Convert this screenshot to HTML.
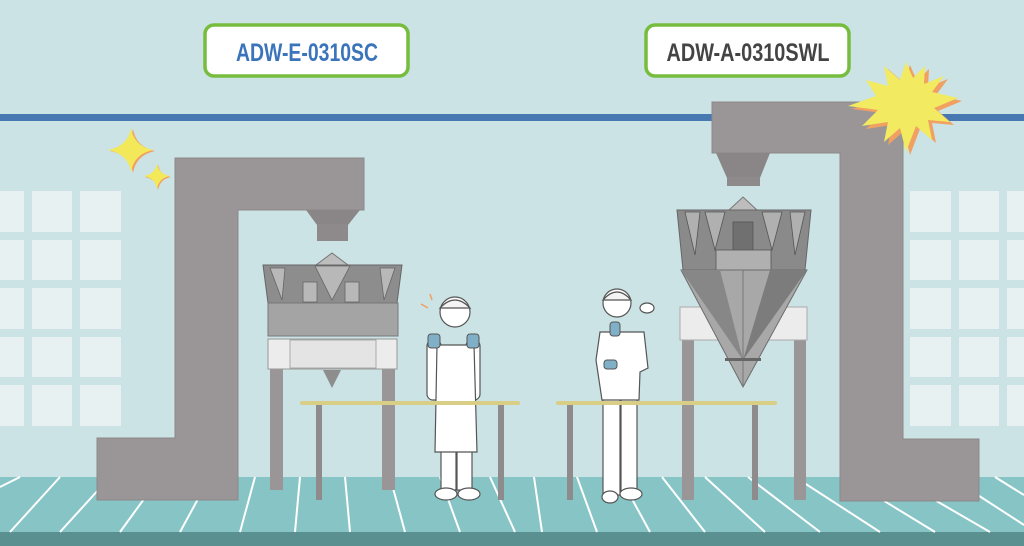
<!DOCTYPE html>
<html><head><meta charset="utf-8"><style>
html,body{margin:0;padding:0;background:#cbe3e4;}
svg{display:block}
text{font-family:"Liberation Sans",sans-serif;font-weight:bold}
</style></head><body>
<svg width="1024" height="546" viewBox="0 0 1024 546" xmlns="http://www.w3.org/2000/svg">
<rect width="1024" height="546" fill="#cbe3e4"/>
<rect x="0" y="114" width="1024" height="7" fill="#4878b2"/>
<g fill="#e7f1f2">
<rect x="0" y="191" width="24" height="41"/><rect x="32" y="191" width="40" height="41"/><rect x="80" y="191" width="41" height="41"/>
<rect x="0" y="240" width="24" height="40"/><rect x="32" y="240" width="40" height="40"/><rect x="80" y="240" width="41" height="40"/>
<rect x="0" y="288" width="24" height="41"/><rect x="32" y="288" width="40" height="41"/><rect x="80" y="288" width="41" height="41"/>
<rect x="0" y="337" width="24" height="40"/><rect x="32" y="337" width="40" height="40"/><rect x="80" y="337" width="41" height="40"/>
<rect x="0" y="385" width="24" height="41"/><rect x="32" y="385" width="40" height="41"/><rect x="80" y="385" width="41" height="41"/>
<rect x="910" y="191" width="41" height="41"/><rect x="959" y="191" width="40" height="41"/><rect x="1007" y="191" width="17" height="41"/>
<rect x="910" y="240" width="41" height="40"/><rect x="959" y="240" width="40" height="40"/><rect x="1007" y="240" width="17" height="40"/>
<rect x="910" y="288" width="41" height="41"/><rect x="959" y="288" width="40" height="41"/><rect x="1007" y="288" width="17" height="41"/>
<rect x="910" y="337" width="41" height="40"/><rect x="959" y="337" width="40" height="40"/><rect x="1007" y="337" width="17" height="40"/>
<rect x="910" y="385" width="41" height="41"/><rect x="959" y="385" width="40" height="41"/><rect x="1007" y="385" width="17" height="41"/>
</g>
<rect x="0" y="477" width="1024" height="56" fill="#86c4c6"/>
<rect x="0" y="532" width="1024" height="14" fill="#5a9190"/>
<g stroke="#fff" stroke-width="2" fill="none">
<line x1="20" y1="477" x2="0" y2="487"/><line x1="60" y1="477" x2="10" y2="532"/><line x1="110" y1="477" x2="60" y2="532"/>
<line x1="160" y1="477" x2="120" y2="532"/><line x1="210" y1="477" x2="180" y2="532"/><line x1="255" y1="477" x2="240" y2="532"/>
<line x1="300" y1="477" x2="295" y2="532"/><line x1="345" y1="477" x2="350" y2="532"/><line x1="390" y1="477" x2="405" y2="532"/>
<line x1="440" y1="477" x2="460" y2="532"/><line x1="490" y1="477" x2="515" y2="532"/><line x1="534" y1="477" x2="542" y2="532"/>
<line x1="577" y1="477" x2="597" y2="532"/><line x1="620" y1="477" x2="650" y2="532"/><line x1="662" y1="477" x2="705" y2="532"/>
<line x1="705" y1="477" x2="765" y2="532"/><line x1="748" y1="477" x2="820" y2="532"/><line x1="795" y1="477" x2="880" y2="532"/>
<line x1="845" y1="477" x2="935" y2="532"/><line x1="895" y1="477" x2="990" y2="532"/><line x1="950" y1="477" x2="1024" y2="525"/>
<line x1="995" y1="477" x2="1024" y2="495"/>
</g>
<path d="M175 158 H364 V210 H238 V500 H97 V438 H175 Z" fill="#9a9697" stroke="#8c8889"/>
<path d="M712 102 H903 V439 H979 V501 H840 V153 H712 Z" fill="#9a9697" stroke="#8c8889"/>
<rect x="205" y="25" width="203" height="51" rx="9" fill="#fff" stroke="#76bd3e" stroke-width="3.5"/>
<text x="307" y="61" text-anchor="middle" font-size="25" fill="#3a74bb" textLength="142" lengthAdjust="spacingAndGlyphs">ADW-E-0310SC</text>
<rect x="646" y="25" width="203" height="51" rx="9" fill="#fff" stroke="#76bd3e" stroke-width="3.5"/>
<text x="748" y="61" text-anchor="middle" font-size="25" fill="#444" textLength="163" lengthAdjust="spacingAndGlyphs">ADW-A-0310SWL</text>
<path d="M131 128 Q134 146 153 150 Q134 154 131 172 Q128 154 108 150 Q128 146 131 128Z" fill="#f0a060" transform="translate(2,1)"/>
<path d="M131 128 Q134 146 153 150 Q134 154 131 172 Q128 154 108 150 Q128 146 131 128Z" fill="#f2e85a"/>
<path d="M157 164 Q159 174 170 176 Q159 178 157 189 Q155 178 144 176 Q155 174 157 164Z" fill="#f0a060" transform="translate(1,1)"/>
<path d="M157 164 Q159 174 170 176 Q159 178 157 189 Q155 178 144 176 Q155 174 157 164Z" fill="#f2e85a"/>
<g transform="translate(906,104)">
<polygon transform="translate(4,3)" fill="#f0a060" points="0,-42 7,-26 19,-38 18,-20 38,-28 26,-12 52,-6 28,4 44,18 22,16 26,36 10,22 0,48 -6,24 -22,38 -18,18 -44,22 -28,6 -58,2 -30,-8 -40,-24 -18,-18 -22,-38 -6,-24"/>
<polygon fill="#f2ea60" points="0,-42 7,-26 19,-38 18,-20 38,-28 26,-12 52,-6 28,4 44,18 22,16 26,36 10,22 0,48 -6,24 -22,38 -18,18 -44,22 -28,6 -58,2 -30,-8 -40,-24 -18,-18 -22,-38 -6,-24"/>
</g>
<polygon points="306,210 360,210 348,225 317,225" fill="#8a8687"/>
<rect x="317" y="224" width="31" height="17" fill="#8e8a8b"/>
<rect x="270" y="368" width="13" height="122" fill="#9a9697"/>
<rect x="382" y="368" width="13" height="122" fill="#9a9697"/>
<polygon points="332,253 348,265 316,265" fill="#bdbdbd" stroke="#777"/>
<polygon points="263,265 402,265 397,303 268,303" fill="#8d8d8d" stroke="#666"/>
<g fill="#b8b8b8" stroke="#666" stroke-width="0.8">
<polygon points="270,268 285,268 282,300"/><polygon points="380,268 395,268 384,300"/>
<polygon points="315,266 350,266 332,300"/>
<rect x="303" y="282" width="14" height="20"/><rect x="345" y="282" width="14" height="20"/>
</g>
<rect x="268" y="303" width="130" height="33" fill="#a4a4a4" stroke="#777"/>
<rect x="268" y="339" width="129" height="30" fill="#ececec" stroke="#999"/>
<rect x="290" y="340" width="86" height="28" fill="#e4e4e4" stroke="#aaa"/>
<polygon points="323,370 341,370 332,388" fill="#8d8d8d"/>
<polygon points="716,153 770,153 760,178 727,178" fill="#8a8687"/>
<rect x="727" y="177" width="33" height="9" fill="#8e8a8b"/>
<rect x="682" y="340" width="12" height="160" fill="#9a9697"/>
<rect x="794" y="340" width="12" height="160" fill="#9a9697"/>
<rect x="680" y="307" width="127" height="33" fill="#ececec" stroke="#aaa"/>
<polygon points="743,197 757,210 729,210" fill="#bdbdbd" stroke="#777"/>
<polygon points="677,210 811,210 805,270 683,270" fill="#8a8a8a" stroke="#666"/>
<g fill="#b0b0b0" stroke="#555" stroke-width="0.8">
<polygon points="685,212 700,212 695,255"/><polygon points="790,212 805,212 795,255"/>
<polygon points="705,212 725,212 715,250"/><polygon points="762,212 782,212 772,250"/>
<rect x="733" y="222" width="20" height="48" fill="#707070"/>
<rect x="716" y="250" width="55" height="20"/>
</g>
<polygon points="681,270 807,270 743,387" fill="#a8a8a8" stroke="#6c6c6c"/>
<polygon points="681,270 720,270 743,360" fill="#878787"/>
<polygon points="807,270 770,270 743,360" fill="#7c7c7c"/>
<line x1="743" y1="270" x2="743" y2="387" stroke="#777"/>
<rect x="725" y="358" width="36" height="3" fill="#666"/>
<g fill="#8f8b8c">
<rect x="316" y="405" width="6" height="95"/><rect x="498" y="405" width="6" height="95"/>
<rect x="567" y="405" width="6" height="95"/><rect x="752" y="405" width="6" height="95"/>
</g>
<g stroke="#555" stroke-width="1.2" fill="#fff">
<rect x="441" y="450" width="15" height="40"/><rect x="457" y="450" width="15" height="40"/>
<ellipse cx="446" cy="494" rx="11" ry="6"/><ellipse cx="469" cy="494" rx="11" ry="6"/>
<rect x="427" y="340" width="14" height="60" rx="6"/><rect x="466" y="340" width="14" height="60" rx="6"/>
<path d="M437 345 H474 L477 452 H435 Z"/>
<circle cx="455" cy="312" r="15"/>
<path d="M440 308 Q455 292 470 308 Z" fill="#f4f4f4"/>
</g>
<rect x="428" y="334" width="12" height="14" rx="3" fill="#7fb0c8" stroke="#555"/>
<rect x="467" y="334" width="12" height="14" rx="3" fill="#7fb0c8" stroke="#555"/>
<g stroke="#f0a060" stroke-width="1.5"><line x1="421" y1="304" x2="428" y2="308"/><line x1="430" y1="294" x2="432" y2="300"/></g>
<g stroke="#555" stroke-width="1.2" fill="#fff">
<rect x="603" y="398" width="17" height="97"/><rect x="621" y="398" width="16" height="97"/>
<ellipse cx="610" cy="497" rx="8" ry="6"/><ellipse cx="631" cy="494" rx="11" ry="6"/>
<path d="M600 332 H644 L648 368 L640 372 L639 400 H602 L596 360 Z"/>
<circle cx="617" cy="303" r="14"/>
<path d="M603 300 Q617 284 631 300 Z" fill="#f4f4f4"/>
<ellipse cx="647" cy="308" rx="7" ry="5"/>
</g>
<rect x="610" y="322" width="10" height="14" rx="3" fill="#7fb0c8" stroke="#555"/>
<rect x="604" y="360" width="13" height="9" rx="3" fill="#7fb0c8" stroke="#555"/>
<rect x="300" y="401" width="220" height="4" rx="2" fill="#d8ce86"/>
<rect x="556" y="401" width="221" height="4" rx="2" fill="#d8ce86"/>
</svg>
</body></html>
